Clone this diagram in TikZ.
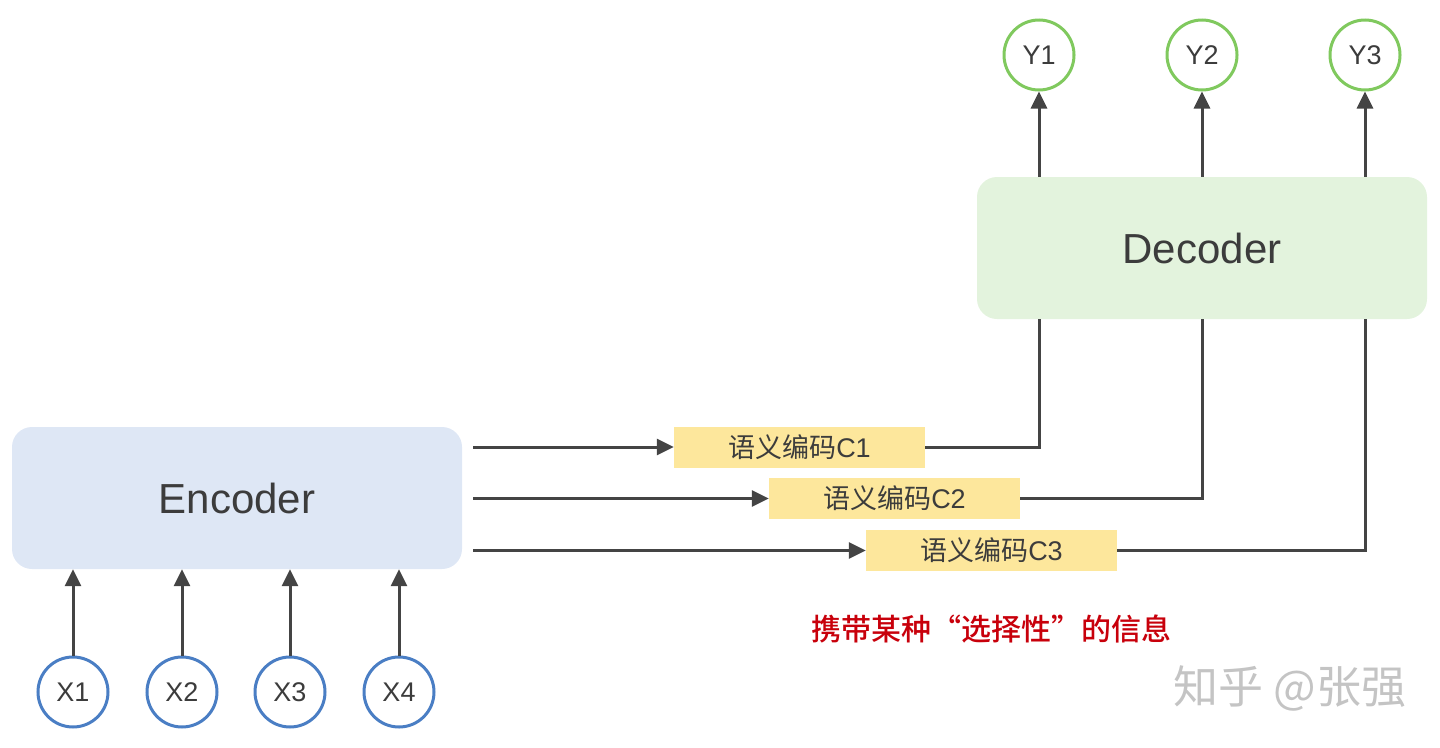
\documentclass[tikz,border=0pt]{standalone}
\usepackage{fontspec}
\setmainfont{Liberation Sans}
\newfontfamily\cjk{Noto Sans CJK SC}
\newfontfamily\cjkm{Noto Sans CJK SC Medium}
\usetikzlibrary{arrows.meta}
\definecolor{encfill}{HTML}{DEE7F5}
\definecolor{decfill}{HTML}{E3F3DD}
\definecolor{xblue}{HTML}{4A7EC4}
\definecolor{ygreen}{HTML}{80C95E}
\definecolor{cfill}{HTML}{FDE79C}
\definecolor{linec}{HTML}{444444}
\definecolor{txt}{HTML}{3C3C3C}
\definecolor{redtxt}{HTML}{C8000B}
\definecolor{wm}{HTML}{C4C4C4}
\tikzset{
  bigbox/.style={rounded corners=20pt, minimum width=450pt, minimum height=142pt, inner sep=0pt, text=txt, font=\fontsize{42}{50}\selectfont},
  xcirc/.style={circle, draw=xblue, line width=3pt, fill=white, minimum size=70pt, inner sep=0pt, text=txt, font=\fontsize{27}{32}\selectfont},
  ycirc/.style={circle, draw=ygreen, line width=3pt, fill=white, minimum size=70pt, inner sep=0pt, text=txt, font=\fontsize{27}{32}\selectfont},
  cbox/.style={fill=cfill, minimum width=251pt, minimum height=41pt, inner sep=0pt, text=txt, font=\fontsize{27}{32}\selectfont},
  conn/.style={draw=linec, line width=3pt},
  arr/.style={conn, -{Triangle[length=17pt,width=16pt]}},
}
\begin{document}
\begin{tikzpicture}[x=1pt, y=-1pt]
\useasboundingbox (0,0) rectangle (1440,747);
% boxes
\node[bigbox, fill=encfill] (enc) at (237,498) {Encoder};
\node[bigbox, fill=decfill] (dec) at (1202,248) {Decoder};
% inputs
\foreach \i/\x in {1/73,2/182,3/290,4/399} {
  \node[xcirc] (x\i) at (\x,692) {X\i};
  \draw[arr] (x\i.north) -- (x\i.north |- enc.south);
}
% outputs
\foreach \i/\x in {1/1039,2/1202,3/1365} {
  \node[ycirc] (y\i) at (\x,55) {Y\i};
  \draw[arr] (y\i.south |- dec.north) -- (y\i.south);
}
% semantic codes
\node[cbox] (c1) at (799.5,447) {{\cjk 语义编码}C1};
\node[cbox] (c2) at (894.5,498.5) {{\cjk 语义编码}C2};
\node[cbox] (c3) at (991.5,550.5) {{\cjk 语义编码}C3};
\coordinate (s1) at (473,447);
\coordinate (s2) at (473,498.5);
\coordinate (s3) at (473,550.5);
\draw[arr] (s1) -- (c1.west);
\draw[arr] (s2) -- (c2.west);
\draw[arr] (s3) -- (c3.west);
\draw[conn] (c1.east) -| (y1.south |- dec.south);
\draw[conn] (c2.east) -| (y2.south |- dec.south);
\draw[conn] (c3.east) -| (y3.south |- dec.south);
% notes
\node[text=redtxt, font=\cjkm\fontsize{30}{36}\selectfont, inner sep=0pt] (note) at (991,629) {携带某种“选择性”的信息};
\node[text=wm, font=\cjk\fontsize{45}{52}\selectfont, inner sep=0pt] (wmk) at (1290,688) {知乎 @张强};
\end{tikzpicture}
\end{document}
